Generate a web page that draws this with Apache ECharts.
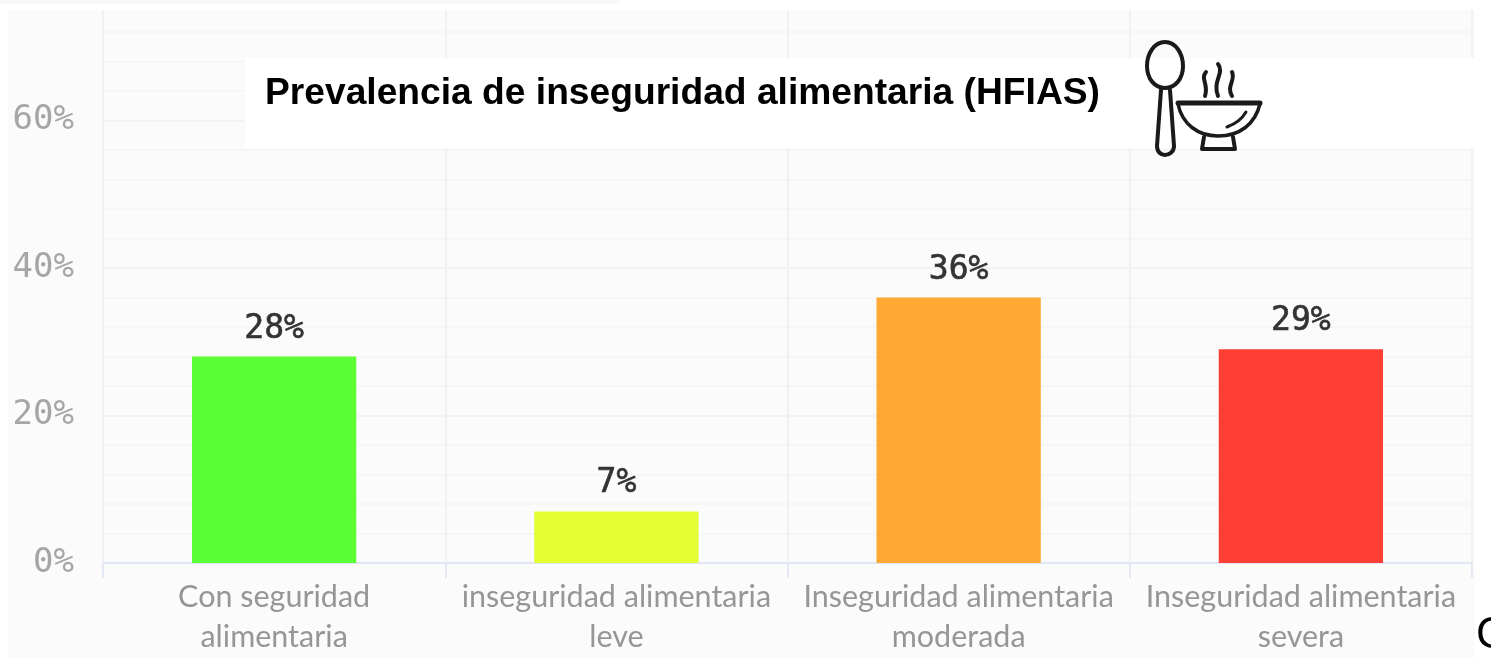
<!DOCTYPE html>
<html>
<head>
<meta charset="utf-8">
<style>html,body{margin:0;padding:0;background:#fff}#c{width:1491px;height:660px}</style>
<script src="https://cdn.jsdelivr.net/npm/echarts@6/dist/echarts.min.js"></script>
</head>
<body>
<div id="c"></div>
<script>
var categories = ['Con seguridad\nalimentaria', 'inseguridad alimentaria\nleve', 'Inseguridad alimentaria\nmoderada', 'Inseguridad alimentaria\nsevera'];
var values = [28, 7, 36, 29];
var barColors = ['#5CFF33', '#E3FF33', '#FFA833', '#FF3F33'];
var titleText = 'Prevalencia de inseguridad alimentaria (HFIAS)';
var clippedText = 'C';
var iconPaths = [
  ['M1165 42 C1154 42 1147 54 1147 66 C1147 79 1155 88 1165 88 C1175 88 1183 79 1183 66 C1183 54 1176 42 1165 42 Z', 4],
  ['M1161 90 L1157 146 C1157 152 1161 155 1165 155 C1169 155 1174 152 1174 146 L1170 90', 4],
  ['M1178 103 L1260 103', 5],
  ['M1178 104 C1182 124 1198 136 1218 136 C1240 136 1255 124 1260 104', 3.5],
  ['M1204 137 L1202 149 L1235 149 L1233 137', 4],
  ['M1227 127 C1235 124 1242 119 1246 112', 3],
  ['M1206 72 C1200 79 1209 84 1205 96', 4],
  ['M1218 64 C1225 73 1212 81 1218 96', 4],
  ['M1232 72 C1236 80 1226 86 1232 96', 4]
];

var chart = echarts.init(document.getElementById('c'));
chart.setOption({
  animation: false,
  backgroundColor: '#ffffff',
  grid: {left: 103, right: 19, top: 10, bottom: 97, containLabel: false},
  xAxis: {
    type: 'category', data: categories,
    axisLine: {show: true, lineStyle: {color: '#dfe6f4', width: 2}},
    axisTick: {show: true, length: 15, lineStyle: {color: '#e3e8f3', width: 2}},
    axisLabel: {color: '#969696', fontFamily: 'Lato', fontSize: 30.5, lineHeight: 40, margin: 14, interval: 0},
    splitLine: {show: true, lineStyle: {color: '#eff1f5', width: 2}}
  },
  yAxis: {
    type: 'value', min: 0, max: 75, interval: 20,
    axisLine: {show: false}, axisTick: {show: false},
    axisLabel: {color: '#a6a6a6', fontFamily: 'DejaVu Sans Mono', fontSize: 34, margin: 29, showMaxLabel: false,
      formatter: function (v) { return v + '%'; }},
    splitLine: {show: true, showMaxLine: false, lineStyle: {color: '#f2f2f2', width: 2}},
    minorTick: {show: false, splitNumber: 5},
    minorSplitLine: {show: true, lineStyle: {color: '#f6f6f6', width: 2}}
  },
  series: [{
    type: 'bar', barWidth: '48%',
    data: values.map(function (v, i) { return {value: v, itemStyle: {color: barColors[i]}}; }),
    label: {show: true, position: 'top', distance: 11, color: '#333', fontFamily: 'DejaVu Sans Mono', fontSize: 33,
      textBorderColor: '#333', textBorderWidth: 0.6,
      formatter: function (p) { return p.value + '%'; }}
  }, {
    type: 'custom', coordinateSystem: 'none', z: 30, silent: true, data: [[0]],
    renderItem: function () {
      return {type: 'group', children: iconPaths.map(function (p) {
        return {type: 'path', shape: {pathData: p[0]},
          style: {stroke: '#1a1a1a', fill: 'none', lineWidth: p[1], lineCap: 'round', lineJoin: 'round'}};
      })};
    }
  }],
  graphic: {elements: [
    {type: 'rect', z: -10, shape: {x: 8, y: 10, width: 1467, height: 648}, style: {fill: '#fbfbfb'}},
    {type: 'rect', z: -10, shape: {x: 0, y: 0, width: 620, height: 4}, style: {fill: '#f8f8f8'}},
    {type: 'rect', z: 20, shape: {x: 245, y: 58, width: 1246, height: 90}, style: {fill: '#ffffff'}},
    {type: 'text', z: 21, x: 265, y: 94, style: {text: titleText, fill: '#000', fontFamily: 'Liberation Sans', fontWeight: 'bold', fontSize: 37.2, verticalAlign: 'middle'}},
    {type: 'text', z: 21, x: 1476, y: 636, style: {text: clippedText, fill: '#000', fontFamily: 'Liberation Sans', fontSize: 44, verticalAlign: 'middle'}}
  ]}
});
</script>
</body>
</html>
